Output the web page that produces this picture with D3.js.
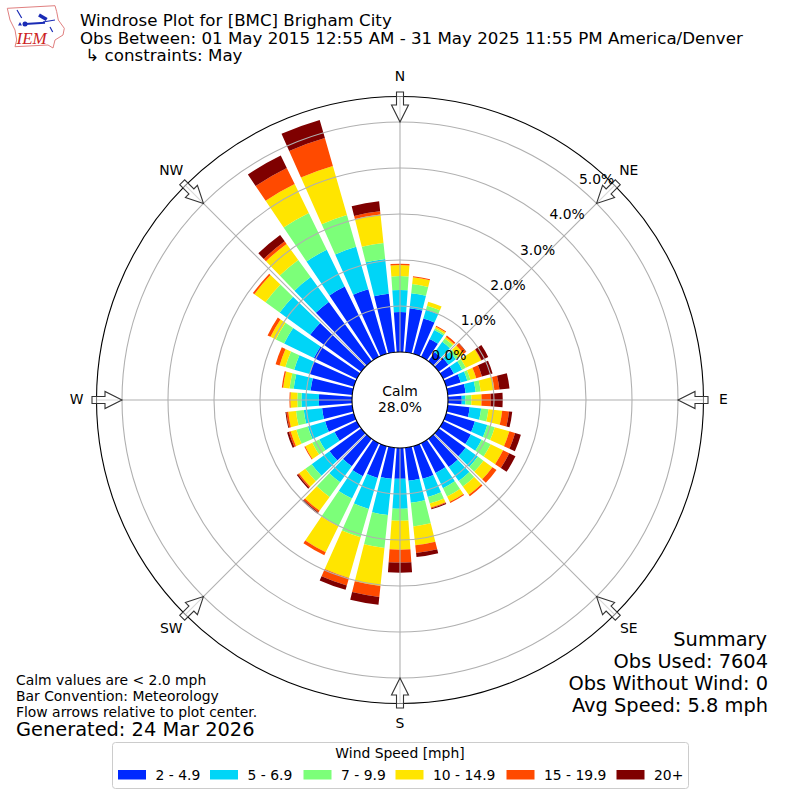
<!DOCTYPE html>
<html>
<head>
<meta charset="utf-8">
<script src="https://cdnjs.cloudflare.com/ajax/libs/d3/7.8.5/d3.min.js"></script>
<style>
  html, body { margin: 0; padding: 0; background: #fff; }
  svg { display: block; }
  text { font-family: "DejaVu Sans", sans-serif; fill: #000; }
</style>
</head>
<body>
<svg id="chart" width="800" height="800"></svg>
<script>
// percent of observations by direction, 0 to 350 every 10 degrees
const directions = d3.range(0, 360, 10);
const speedLabels = ["2 - 4.9", "5 - 6.9", "7 - 9.9", "10 - 14.9", "15 - 19.9", "20+"];
const speedColors = ["#0029ff", "#00d5f7", "#7cff79", "#ffe500", "#ff4a00", "#7f0000"];

const speed2to5 = [0.87,0.96,0.80,0.43,0.24,0.26,0.26,0.33,0.39,0.30,0.48,0.65,0.67,0.72,0.76,0.72,0.74,0.72,0.67,0.68,0.72,0.80,0.74,0.85,0.54,0.65,0.66,0.72,0.91,1.00,1.04,1.37,1.59,1.70,1.46,1.28];
const speed5to7 = [0.48,0.33,0.20,0.22,0.28,0.20,0.20,0.15,0.22,0.08,0.25,0.28,0.26,0.33,0.37,0.37,0.41,0.48,0.65,0.79,0.70,0.54,0.43,0.48,0.37,0.39,0.40,0.38,0.37,0.35,0.72,0.82,0.67,0.89,0.96,0.76];
const speed7to10 = [0.30,0.20,0.09,0.04,0.09,0.07,0.09,0.07,0.11,0.13,0.16,0.17,0.22,0.15,0.15,0.20,0.15,0.52,0.26,0.72,0.64,0.67,0.39,0.17,0.17,0.26,0.17,0.09,0.09,0.20,0.20,0.38,0.46,0.89,0.72,0.35];
const speed10to15 = [0.24,0.15,0.09,0.04,0.04,0.13,0.37,0.13,0.30,0.22,0.30,0.33,0.30,0.24,0.22,0.13,0.09,0.41,0.63,0.83,0.92,0.63,0.37,0.17,0.17,0.13,0.17,0.15,0.14,0.13,0.13,0.30,0.43,0.70,1.11,0.62];
const speed15to20 = [0.03,0.02,0,0.02,0.04,0.07,0.01,0.13,0.11,0.20,0.15,0.13,0.15,0.11,0.04,0.03,0.02,0.17,0.28,0.24,0.17,0.07,0.04,0.03,0.02,0.04,0.04,0.02,0.03,0.09,0.07,0.04,0.07,0.39,0.63,0.07];
const speed20up = [0,0,0,0,0,0.01,0.16,0.24,0.22,0.26,0.07,0.13,0.15,0,0,0,0.02,0.09,0.22,0.17,0.10,0,0.04,0.03,0,0.04,0.02,0,0,0,0,0,0.17,0.30,0.41,0.22];
const series = [speed2to5, speed5to7, speed7to10, speed10to15, speed15to20, speed20up];

const compassNames = ["N", "NE", "E", "SE", "S", "SW", "W", "NW"];
const compassAngles = [0, 45, 90, 135, 180, 225, 270, 315];
const ringTicks = [0, 1, 2, 3, 4, 5];

const titleLines = ["Windrose Plot for [BMC] Brigham City",
  "Obs Between: 01 May 2015 12:55 AM - 31 May 2025 11:55 PM America/Denver",
  " \u21b3 constraints: May"];
const summaryLines = ["Summary", "Obs Used: 7604", "Obs Without Wind: 0", "Avg Speed: 5.8 mph"];
const noteLines = ["Calm values are < 2.0 mph", "Bar Convention: Meteorology", "Flow arrows relative to plot center."];

const cx = 400, cy = 400;
const svg = d3.select("#chart");
const r = d3.scaleLinear().domain([0, 5]).range([48, 278]);
const rOuter = 303.5;
const angle = d3.scaleLinear().domain([0, 360]).range([0, 2 * Math.PI]);
const barWidth = angle(8);

const plot = svg.append("g").attr("transform", `translate(${cx},${cy})`);

// stacked wedges
const stack = d3.stack()
  .keys(d3.range(series.length))
  .value((row, key) => series[key][row]);
const layers = stack(d3.range(directions.length));
const arc = d3.arc();

plot.append("g").selectAll("g")
  .data(layers)
  .join("g")
    .attr("fill", (d, i) => speedColors[i])
  .selectAll("path")
  .data(d => d)
  .join("path")
    .attr("d", (d, i) => arc({
      innerRadius: r(d[0]),
      outerRadius: r(d[1]),
      startAngle: angle(directions[i]) - barWidth / 2,
      endAngle: angle(directions[i]) + barWidth / 2
    }));

// grid sits over the bars
plot.append("g").selectAll("line")
  .data(compassAngles)
  .join("line")
    .attr("x1", d => 48 * Math.sin(angle(d)))
    .attr("y1", d => -48 * Math.cos(angle(d)))
    .attr("x2", d => rOuter * Math.sin(angle(d)))
    .attr("y2", d => -rOuter * Math.cos(angle(d)))
    .attr("stroke", "#b0b0b0")
    .attr("stroke-width", 1.1);

plot.append("g").selectAll("circle")
  .data(ringTicks.slice(1))
  .join("circle")
    .attr("r", d => r(d))
    .attr("fill", "none")
    .attr("stroke", "#b0b0b0")
    .attr("stroke-width", 1.1);

// calm circle and frame
plot.append("circle").attr("r", 48).attr("fill", "#fff").attr("stroke", "#000").attr("stroke-width", 1.1);
plot.append("circle").attr("r", rOuter).attr("fill", "none").attr("stroke", "#000").attr("stroke-width", 1.1);

plot.append("text").attr("text-anchor", "middle").attr("y", -4).style("font-size", "13.9px").text("Calm");
plot.append("text").attr("text-anchor", "middle").attr("y", 12).style("font-size", "13.9px").text("28.0%");

// flow arrows, tip at the 5% ring
const arrowPath = "M0,0 L-8.5,-17 L-3.5,-17 L-3.5,-30 L3.5,-30 L3.5,-17 L8.5,-17 Z";
plot.append("g").selectAll("path")
  .data(compassAngles)
  .join("path")
    .attr("d", arrowPath)
    .attr("transform", d => `rotate(${d}) translate(0,-278)`)
    .attr("fill", "#fff")
    .attr("fill-opacity", 0.5)
    .attr("stroke", "#333")
    .attr("stroke-width", 1.1);

// percent labels along the 40 degree line
plot.append("g").selectAll("text")
  .data(ringTicks)
  .join("text")
    .attr("x", d => r(d) * Math.sin(angle(40)) + 18)
    .attr("y", d => -r(d) * Math.cos(angle(40)) - 3)
    .attr("text-anchor", "middle")
    .style("font-size", "13.9px")
    .text(d => d3.format(".1f")(d) + "%");

// compass names
plot.append("g").selectAll("text")
  .data(compassNames)
  .join("text")
    .attr("x", (d, i) => 323.5 * Math.sin(angle(compassAngles[i])))
    .attr("y", (d, i) => -323.5 * Math.cos(angle(compassAngles[i])) + 4)
    .attr("text-anchor", "middle")
    .style("font-size", "13.9px")
    .text(d => d);

// header
svg.append("g").selectAll("text")
  .data(titleLines)
  .join("text")
    .attr("x", 80)
    .attr("y", (d, i) => 26 + i * 17.6)
    .attr("xml:space", "preserve")
    .style("font-size", "16.67px")
    .text(d => d);

// logo
const logo = svg.append("g");
logo.append("path")
  .attr("d", "M7.3,8.3 L55,5.7 L56.7,11.7 L58.3,20 L64.3,28.3 L63,35 L55,40 L53,48 L48,45 L15,46.7 L16.7,40 L15,30 L10,20 Z")
  .attr("fill", "#fff").attr("stroke", "#e08080").attr("stroke-width", 1);
logo.append("path").attr("d", "M25,24 L45,22.7")
  .attr("stroke", "#1a2bb5").attr("stroke-width", 2).attr("fill", "none");
logo.append("path").attr("d", "M17,10 L21.7,18 M43,22 L55,20 M50,27 L52.7,32")
  .attr("stroke", "#1a2bb5").attr("stroke-width", 1.2).attr("fill", "none");
logo.append("path").attr("d", "M39,15 L46.7,19.5")
  .attr("stroke", "#1a2bb5").attr("stroke-width", 3.5).attr("fill", "none");
logo.append("circle").attr("cx", 25).attr("cy", 24).attr("r", 2.5).attr("fill", "#1a2bb5");
logo.append("path").attr("d", "M18,25.5 L20,22 L22,25.5 Z").attr("fill", "#1a2bb5");
logo.append("text").attr("x", 16.5).attr("y", 43.5)
  .style("font-family", "'Liberation Serif', serif").style("font-style", "italic")
  .style("font-size", "17px").style("fill", "#c22").text("IEM");

// summary
svg.append("g").selectAll("text")
  .data(summaryLines)
  .join("text")
    .attr("x", d => d === "Summary" ? 767 : 768)
    .attr("y", (d, i) => 646 + i * 22)
    .attr("text-anchor", "end")
    .style("font-size", "19.4px")
    .text(d => d);

// notes
svg.append("g").selectAll("text")
  .data(noteLines)
  .join("text")
    .attr("x", 16)
    .attr("y", (d, i) => 685 + i * 16)
    .style("font-size", "13.9px")
    .text(d => d);
svg.append("text").attr("x", 16).attr("y", 736).style("font-size", "19.4px").text("Generated: 24 Mar 2026");

// legend
const legend = svg.append("g");
legend.append("rect")
  .attr("x", 112.5).attr("y", 742.5).attr("width", 576).attr("height", 46).attr("rx", 3)
  .attr("fill", "#fff").attr("stroke", "#ccc");
legend.append("text").attr("x", 400).attr("y", 758).attr("text-anchor", "middle")
  .style("font-size", "13.9px").text("Wind Speed [mph]");
const legendX = [118, 210, 303.5, 395.5, 506.5, 616.5];
const legendItem = legend.selectAll("g")
  .data(speedLabels)
  .join("g")
    .attr("transform", (d, i) => `translate(${legendX[i]},770)`);
legendItem.append("rect").attr("width", 28).attr("height", 9.5).attr("fill", (d, i) => speedColors[i]);
legendItem.append("text").attr("x", 37.5).attr("y", 10).style("font-size", "13.9px").text(d => d);
</script>
</body>
</html>
